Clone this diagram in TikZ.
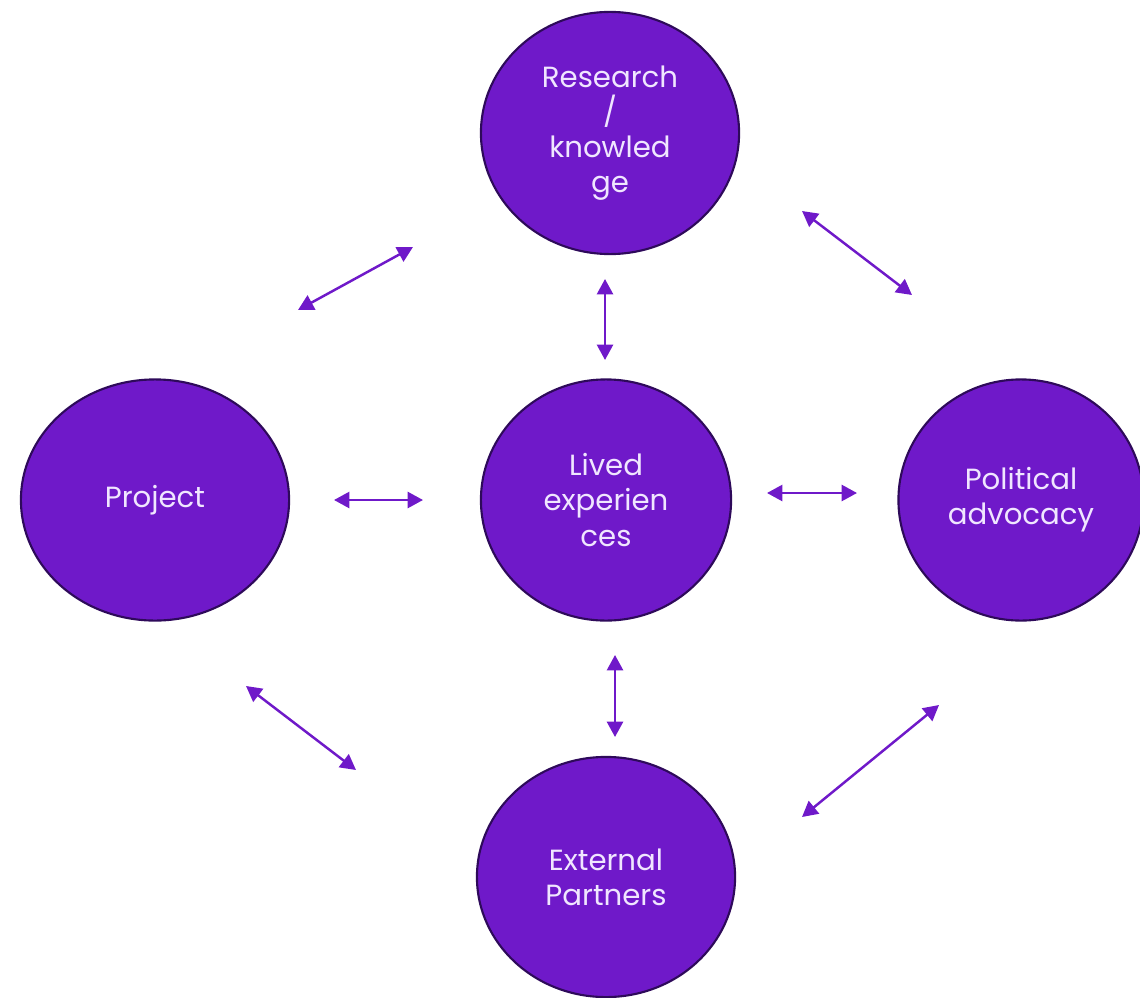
\documentclass[tikz,border=0pt]{standalone}
\usepackage{fontspec}
\setmainfont{Poppins}
\usetikzlibrary{arrows.meta, shapes.geometric}
\definecolor{bubble}{RGB}{111,25,201}
\definecolor{rim}{RGB}{46,10,90}
\definecolor{label}{RGB}{240,230,255}
\tikzset{
	bubble/.style={ellipse, draw=rim, line width=0.6pt, fill=bubble, text=label, align=center, font=\fontsize{8.3}{10}\selectfont, inner sep=0pt},
	link/.style={draw=bubble, line width=0.7pt, {Triangle[length=4.4pt,width=4.6pt]}-{Triangle[length=4.4pt,width=4.6pt]}}
}

\begin{document}
\begin{tikzpicture}[x=0.01cm, y=-0.01cm]
	\useasboundingbox (0,0) rectangle (1140,997);
	\node[bubble, minimum width=2.58cm, minimum height=2.42cm] (research) at (610,133) {Research\\/\\knowled\\ge};
	\node[bubble, minimum width=2.68cm, minimum height=2.41cm] (project) at (155,500) {Project};
	\node[bubble, minimum width=2.50cm, minimum height=2.41cm] (lived) at (606,500) {Lived\\experien\\ces};
	\node[bubble, minimum width=2.45cm, minimum height=2.41cm] (political) at (1021,500) {Political\\advocacy};
	\node[bubble, minimum width=2.58cm, minimum height=2.40cm] (external) at (606,877) {External\\Partners};
	\coordinate (rp1) at (298,310); \coordinate (rp2) at (413,247);
	\coordinate (rl1) at (605,279); \coordinate (rl2) at (605,360);
	\coordinate (ra1) at (802,211); \coordinate (ra2) at (912,295);
	\coordinate (pl1) at (334,500); \coordinate (pl2) at (423,500);
	\coordinate (la1) at (767,493); \coordinate (la2) at (857,493);
	\coordinate (pe1) at (246,686); \coordinate (pe2) at (356,770);
	\coordinate (le1) at (615,655); \coordinate (le2) at (615,737);
	\coordinate (ae1) at (802,817); \coordinate (ae2) at (939,705);
	\draw[link] (rp1) -- (rp2);
	\draw[link] (rl1) -- (rl2);
	\draw[link] (ra1) -- (ra2);
	\draw[link] (pl1) -- (pl2);
	\draw[link] (la1) -- (la2);
	\draw[link] (pe1) -- (pe2);
	\draw[link] (le1) -- (le2);
	\draw[link] (ae1) -- (ae2);
\end{tikzpicture}
\end{document}
